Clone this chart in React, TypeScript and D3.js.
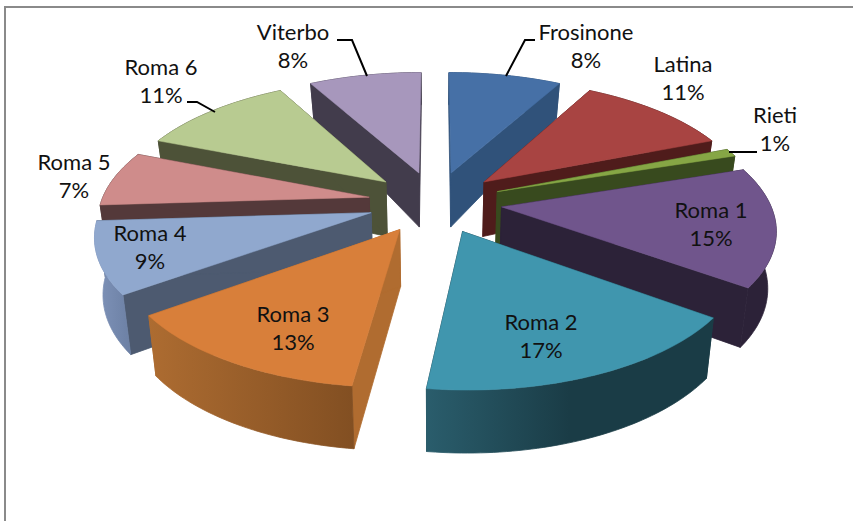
import React from "react";
import * as d3 from "d3";

const categories = ["Frosinone", "Latina", "Rieti", "Roma 1", "Roma 2", "Roma 3", "Roma 4", "Roma 5", "Roma 6", "Viterbo"];
const percents = [8, 11, 1, 15, 17, 13, 9, 7, 11, 8];

const topColors = ["#4670a6", "#a84442", "#86a645", "#70558c", "#4096ae", "#d87f3a", "#90a8ce", "#cf8c8b", "#b8cb91", "#a797bc"];
const cutColors = ["#30527a", "#4f1c1b", "#384a1e", "#2c2238", "#1b3e48", "#b06c30", "#4d5a70", "#54393a", "#4d5238", "#423c4c"];
const wallLeft = ["#30527a", "#4f1c1b", "#384a1e", "#2c2238", "#2a5d6c", "#ad6c31", "#8094ba", "#54393a", "#4d5238", "#423c4c"];
const wallRight = ["#30527a", "#4f1c1b", "#384a1e", "#2c2238", "#1a3c46", "#824f22", "#6c80a4", "#54393a", "#4d5238", "#423c4c"];
const wallStop = [1, 1, 1, 1, 0.5, 1, 1, 1, 1, 1];

// label centres, name line baseline
const labelX = [586, 683, 775, 711, 541, 293, 150, 74, 161, 293];
const labelY = [40, 72, 123, 218, 330, 322, 241, 170, 75, 40];

const leaders = [
  [[506, 76], [525, 40], [535, 40]],
  [[367, 76], [352, 40], [337, 40]],
  [[215, 112], [197, 102], [187, 102]],
  [[729, 152], [757, 152]],
];

const W = 853;
const H = 521;
const cx = 435;
const cy = 202;
const R = 268;
const explode = 67;
const tilt = 0.463;
const persp = 0.000573;
const wallHeight = d3.scaleLinear().domain([-310, -66, 330]).range([34, 54, 63]);

type Pt = [number, number];

// F is distance toward the viewer on the pie plane
const project = (X: number, F: number): Pt => {
  const p = 1 / (1 - F * persp);
  return [cx + X * p, cy + tilt * F * p];
};
const projectBottom = (X: number, F: number): Pt => {
  const [x, y] = project(X, F);
  return [cx + (x - cx) * 0.975, y + wallHeight(F)];
};

const line = d3.line<Pt>();

const arcs = d3
  .pie<number>()
  .sort(null)
  .startAngle(0)
  .endAngle(2 * Math.PI)(percents);

const slices = arcs.map((a, i) => {
  const mid = (a.startAngle + a.endAngle) / 2;
  const ox = explode * Math.sin(mid);
  const oy = -explode * Math.cos(mid);
  const apex: [number, number] = [ox, oy];
  const steps = d3.range(a.startAngle, a.endAngle, 0.02).concat(a.endAngle);
  const rim = steps.map((t) => [ox + R * Math.sin(t), oy - R * Math.cos(t)] as [number, number]);
  const rimTop = rim.map((p) => project(p[0], p[1]));
  const rimBottom = rim.map((p) => projectBottom(p[0], p[1]));
  const first = rim[0];
  const last = rim[rim.length - 1];
  return {
    i,
    depth: oy,
    top: line([project(apex[0], apex[1]), ...rimTop])! + "Z",
    wall: line([...rimTop, ...rimBottom.slice().reverse()])! + "Z",
    cutA: line([
      project(apex[0], apex[1]),
      project(first[0], first[1]),
      projectBottom(first[0], first[1]),
      projectBottom(apex[0], apex[1]),
    ])! + "Z",
    cutB: line([
      project(apex[0], apex[1]),
      project(last[0], last[1]),
      projectBottom(last[0], last[1]),
      projectBottom(apex[0], apex[1]),
    ])! + "Z",
  };
});

const drawOrder = slices.slice().sort((a, b) => a.depth - b.depth);

export default function App() {
  return (
    <svg
      width={W}
      height={H}
      viewBox={`0 0 ${W} ${H}`}
      style={{ position: "fixed", left: 0, top: 0, background: "#fff" }}
    >
      <defs>
        {categories.map((c, i) => (
          <linearGradient key={c} id={`wall-${i}`} x1="0" x2="1" y1="0" y2="0">
            <stop offset="0" stopColor={wallLeft[i]} />
            <stop offset={wallStop[i]} stopColor={wallRight[i]} />
          </linearGradient>
        ))}
      </defs>

      <path d={`M5,${H}V7H${W}`} fill="none" stroke="#8a8a8a" strokeWidth={2} />

      {drawOrder.map((s) => (
        <g key={s.i}>
          <path d={s.cutA} fill={cutColors[s.i]} stroke={cutColors[s.i]} strokeWidth={0.8} />
          <path d={s.cutB} fill={cutColors[s.i]} stroke={cutColors[s.i]} strokeWidth={0.8} />
          <path d={s.wall} fill={`url(#wall-${s.i})`} stroke={`url(#wall-${s.i})`} strokeWidth={0.8} />
          <path d={s.top} fill={topColors[s.i]} stroke={topColors[s.i]} strokeWidth={0.5} />
        </g>
      ))}

      {leaders.map((l, i) => (
        <path key={i} d={line(l as Pt[])!} fill="none" stroke="#000" strokeWidth={2} />
      ))}

      <g fontFamily="Lato, 'Open Sans', sans-serif" fontSize={22} fill="#111" textAnchor="middle">
        {categories.map((c, i) => (
          <text key={c} x={labelX[i]} y={labelY[i]}>
            <tspan x={labelX[i]}>{c}</tspan>
            <tspan x={labelX[i]} dy={28}>{percents[i]}%</tspan>
          </text>
        ))}
      </g>
    </svg>
  );
}
